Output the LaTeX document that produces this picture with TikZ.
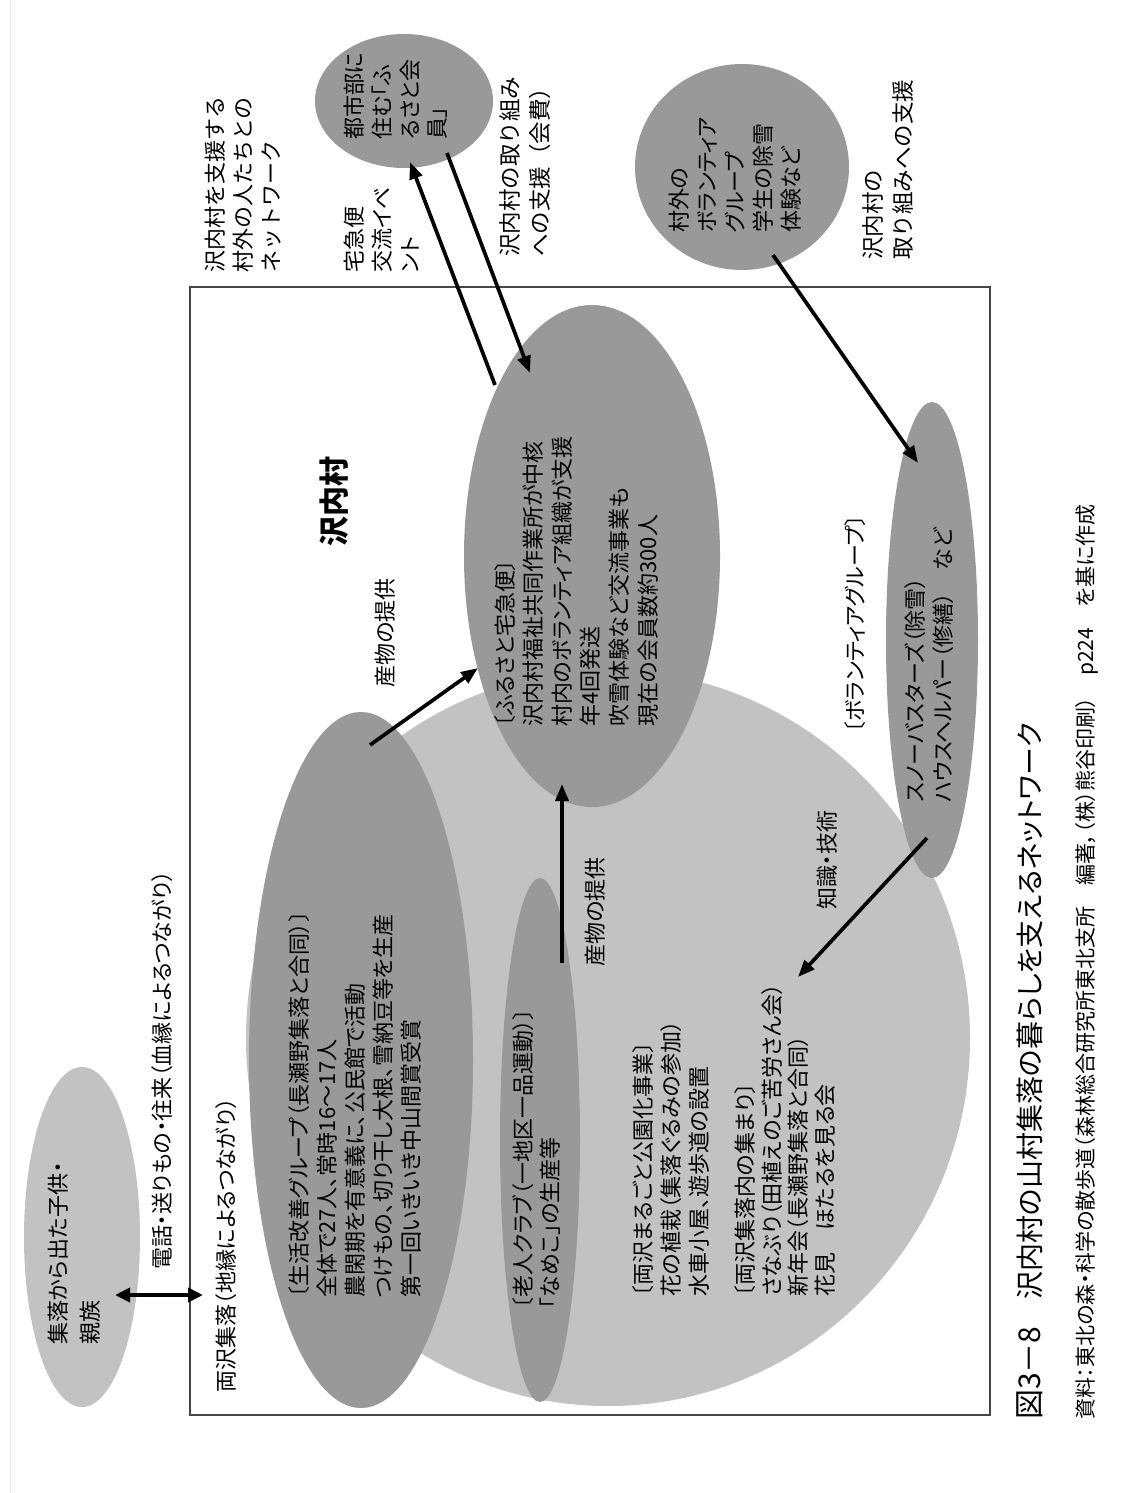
\documentclass[tikz,border=0pt]{standalone}
\usepackage{fontspec}
\setmainfont{Noto Sans CJK JP}[RawFeature=+palt]
\newfontfamily\jpfull{Noto Sans CJK JP}
\usetikzlibrary{shapes.geometric,arrows.meta}
\definecolor{dk}{RGB}{153,153,153}
\definecolor{lt}{RGB}{194,194,194}
\definecolor{frm}{RGB}{70,70,70}
\begin{document}
\begin{tikzpicture}[x=1pt,y=-1pt,
  blob/.style={ellipse, inner sep=0pt, outer sep=0pt, draw=none},
  dblob/.style={blob, fill=dk},
  lblob/.style={blob, fill=lt},
  vt/.style={rotate=90, anchor=west, align=left, inner sep=0pt, font=\fontsize{22}{28}\selectfont},
  vc/.style={rotate=90, anchor=center, inner sep=0pt, font=\fontsize{22}{28}\selectfont},
  arr/.style={line width=3.7pt, -{Triangle[length=17pt,width=13pt]}},
  darr/.style={line width=4pt, {Triangle[length=15pt,width=14pt]}-{Triangle[length=15pt,width=14pt]}},
]
\useasboundingbox (0,0) rectangle (1121,1493);
\fill[white] (0,0) rectangle (1121,1493);
\draw[gray!18, line width=1pt] (10,0) -- (10,1493);

% frame
\node[draw=frm, line width=1.3pt, minimum width=800pt, minimum height=1128pt, inner sep=0pt] (frame) at (590,851) {};

% big light circle (両沢集落)
\node[lblob, minimum width=724pt, minimum height=736pt] (ryosawa) at (608,1038) {};
% outside light ellipse
\node[lblob, minimum width=116pt, minimum height=340pt] (kodomo) at (82,1237) {};

% dark ellipses
\node[dblob, minimum width=224pt, minimum height=696pt] (seikatsu) at (361,1060) {};
\node[dblob, minimum width=80pt, minimum height=524pt] (rojin) at (540,1140) {};
\node[dblob, minimum width=256pt, minimum height=502pt] (takkyu) at (592,556) {};
\node[dblob, minimum width=178pt, minimum height=134pt] (toshi) at (404,101) {};
\node[dblob, minimum width=214pt, minimum height=206pt] (songai) at (742,167) {};
\node[dblob, minimum width=92pt, minimum height=476pt] (snow) at (932,640) {};

% texts
\node[vt, font=\fontsize{22}{32}\selectfont] (tkodomo) at (74,1345) {集落から出た子供・\\親族};
\node[vt] (tdenwa) at (162,1270) {電話・送りもの・往来（血縁によるつながり）};
\node[vt] (tryosawa) at (226,1393) {両沢集落（地縁によるつながり）};
\node[vt] (tseikatsu) at (355,1298) {〔生活改善グループ（長瀬野集落と合同）〕\\全体で27人、常時16～17人\\農閑期を有意義に、公民館で活動\\つけもの、切り干し大根、雪納豆等を生産\\第一回いきいき中山間賞受賞};
\node[vt, font=\fontsize{22}{27}\selectfont] (trojin) at (536,1309) {〔老人クラブ（一地区一品運動）〕\\「なめこ」の生産等};
\node[vt] (tkoen) at (671,1297) {〔両沢まるごと公園化事業〕\\花の植栽（集落ぐるみの参加）\\水車小屋、遊歩道の設置};
\node[vt, font=\fontsize{22}{26.5}\selectfont] (tatsumari) at (785,1297) {〔両沢集落内の集まり〕\\さなぶり（田植えのご苦労さん会）\\新年会（長瀬野集落と合同）\\花見　ほたるを見る会};
\node[vt, font=\fontsize{22}{28.6}\selectfont] (ttakkyu) at (576,727) {〔ふるさと宅急便〕\\沢内村福祉共同作業所が中核\\村内のボランティア組織が支援\\年4回発送\\吹雪体験など交流事業も\\現在の会員数約300人};
\node[vc, font=\fontsize{30}{34}\bfseries\selectfont] (tsawauchi) at (334,501) {沢内村};
\node[vc] (tsanbutsu1) at (385,633) {産物の提供};
\node[vc] (tsanbutsu2) at (595,912) {産物の提供};
\node[vc] (tchishiki) at (827,860) {知識・技術};
\node[vt] (tvol) at (855,733) {〔ボランティアグループ〕};
\node[vt] (tsnow) at (929,803) {スノーバスターズ（除雪）\\ハウスヘルパー（修繕）　など};
\node[vt, font=\fontsize{22}{27.7}\selectfont] (ttoshi) at (396,140) {都市部に\\住む「ふ\\るさと会\\員」};
\node[vt, font=\jpfull\fontsize{22}{28}\selectfont] (tnetwork) at (243,273) {沢内村を支援する\\村外の人たちとの\\ネットワーク};
\node[vt] (tevent) at (382,273) {宅急便\\交流イベ\\ント};
\node[vt, font=\jpfull\fontsize{22.5}{30}\selectfont] (tkaihi) at (525,257) {沢内村の取り組み\\への支援（会費）};
\node[vt] (tsongai) at (735,233) {村外の\\ボランティア\\グループ\\学生の除雪\\体験など};
\node[vt, font=\jpfull\fontsize{22.5}{30}\selectfont] (tshien) at (888,260) {沢内村の\\取り組みへの支援};
\node[vt, font=\fontsize{30}{34}\selectfont] (tfig) at (1030,1420) {図3－8};
\node[vt, font=\fontsize{28}{34}\selectfont] (ttitle) at (1030,1300) {沢内村の山村集落の暮らしを支えるネットワーク};
\node[vt, font=\fontsize{21}{26}\selectfont] (tsource) at (1087,1420) {資料：東北の森・科学の散歩道（森林総合研究所東北支所　編著，（株）熊谷印刷）　p224　を基に作成};

% connector end points
\coordinate (s1) at (370,745);  \coordinate (e1) at (478,668);
\coordinate (s2) at (562,963);  \coordinate (e2) at (562,784);
\coordinate (s3) at (495,385);  \coordinate (e3) at (410,162);
\coordinate (s4) at (447,153);  \coordinate (e4) at (530,373);
\coordinate (s5) at (773,255);  \coordinate (e5) at (918,463);
\coordinate (s6) at (927,838);  \coordinate (e6) at (798,977);
\coordinate (s7) at (115,1295); \coordinate (e7) at (203,1295);

\draw[arr] (s1) -- (e1);
\draw[arr] (s2) -- (e2);
\draw[arr] (s3) -- (e3);
\draw[arr] (s4) -- (e4);
\draw[arr] (s5) -- (e5);
\draw[arr] (s6) -- (e6);
\draw[darr] (s7) -- (e7);
\end{tikzpicture}
\end{document}
